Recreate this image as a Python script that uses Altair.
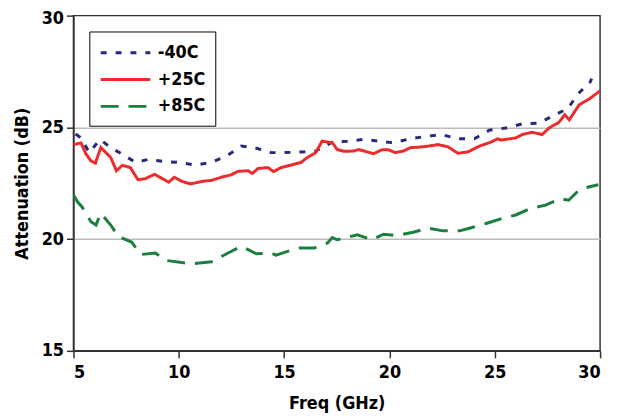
import altair as alt
import pandas as pd

# -40C series
freq_m40 = [5.1, 5.36, 5.75, 6.26, 6.77, 7.32, 7.95, 8.58, 9.28, 10.07, 10.78, 11.53, 12.26, 12.97,
            13.6, 14.38, 15.0, 15.8, 16.5, 17.29, 18.0, 18.78, 19.49, 20.19, 20.98, 21.76, 22.47,
            23.25, 24.03, 24.74, 25.53, 26.31, 27.1, 27.75, 28.48, 28.93, 29.53, 29.6]
att_m40 = [24.7, 24.53, 23.87, 24.46, 24.09, 23.8, 23.43, 23.57, 23.47, 23.43, 23.31, 23.43, 23.72, 24.16,
           24.09, 23.87, 23.87, 23.9, 23.94, 24.34, 24.38, 24.46, 24.38, 24.31, 24.49, 24.6, 24.68,
           24.49, 24.49, 24.87, 24.97, 25.16, 25.19, 25.51, 25.85, 26.48, 27.03, 27.18]

# +25C series
freq_p25 = [5.0, 5.36, 5.6, 5.83, 6.04, 6.3, 6.77, 7.04, 7.32, 7.7, 8.06, 8.4, 8.85, 9.52, 9.79, 10.15,
            10.57, 11.09, 11.56, 12.03, 12.5, 12.8, 13.29, 13.5, 13.76, 14.23, 14.5, 14.85, 15.32, 15.8,
            16.1, 16.5, 16.8, 17.29, 17.52, 17.84, 18.3, 18.54, 19.25, 19.64, 19.96, 20.27, 20.66,
            20.98, 21.45, 21.84, 22.3, 22.78, 23.25, 23.72, 24.27, 24.82, 25.14, 25.3, 26.0, 26.31,
            26.78, 27.25, 27.57, 28.04, 28.32, 28.54, 29.0, 29.45, 30.0]
att_p25 = [24.23, 24.3, 23.8, 23.5, 23.4, 24.1, 23.65, 23.06, 23.3, 23.2, 22.66, 22.7, 22.9, 22.55, 22.77,
           22.58, 22.47, 22.58, 22.63, 22.77, 22.88, 23.03, 23.06, 22.94, 23.16, 23.2, 23.02, 23.2, 23.31,
           23.43, 23.65, 23.87, 24.38, 24.31, 24.01, 23.93, 23.94, 24.01, 23.82, 24.0, 24.0, 23.87, 23.94,
           24.09, 24.12, 24.16, 24.23, 24.13, 23.84, 23.9, 24.16, 24.34, 24.49, 24.43, 24.53, 24.68,
           24.78, 24.68, 24.97, 25.22, 25.56, 25.34, 26.0, 26.25, 26.63]

# +85C series
freq_p85 = [5.0, 5.2, 5.41, 5.83, 6.07, 6.3, 6.77, 7.13, 7.76, 8.19, 8.89, 9.36, 10.23, 10.62, 11.09,
            11.56, 12.34, 12.97, 13.68, 14.38, 14.62, 15.09, 15.72, 16.43, 17.05, 17.29, 17.52, 17.84,
            18.47, 19.17, 19.72, 20.35, 21.13, 21.84, 22.54, 23.33, 23.88, 24.59, 25.37, 26.0, 26.7,
            27.41, 28.12, 28.51, 28.98, 29.45, 29.92]
att_p85 = [21.98, 21.66, 21.44, 20.78, 20.63, 21.15, 20.63, 20.12, 19.87, 19.31, 19.38, 19.05, 18.94,
           18.9, 18.94, 18.99, 19.38, 19.68, 19.34, 19.38, 19.28, 19.43, 19.6, 19.6, 19.82, 20.07, 19.97,
           20.04, 20.19, 19.97, 20.22, 20.16, 20.31, 20.49, 20.37, 20.37, 20.51, 20.7, 20.93, 21.08,
           21.37, 21.52, 21.81, 21.74, 22.18, 22.33, 22.43]

series_names = ["-40C", "+25C", "+85C"]
series_colors = ["#262B78", "#EE2B2B", "#1B7F3F"]
series_dashes = [[6, 9], [1, 0], [18, 10]]
x_ticks = [5, 10, 15, 20, 25, 30]
y_ticks = [15, 20, 25, 30]

rows = []
for name, xs, ys in zip(series_names, [freq_m40, freq_p25, freq_p85], [att_m40, att_p25, att_p85]):
    for xv, yv in zip(xs, ys):
        rows.append({"Freq": xv, "Att": yv, "Series": name})
df = pd.DataFrame(rows)

FONT = "DejaVu Sans Condensed"

legend = alt.Legend(
    title=None, orient="none", legendX=16, legendY=16,
    strokeColor="black", fillColor="white", padding=10,
    symbolType="M-2.5,0H2.5", symbolSize=400, symbolStrokeWidth=3, symbolOffset=15,
    labelFont=FONT, labelFontSize=18, labelFontWeight="bold", labelColor="black",
    rowPadding=6, labelOffset=21,
)

chart = alt.Chart(df).mark_line(strokeWidth=3, clip=True).encode(
    x=alt.X("Freq:Q", scale=alt.Scale(domain=[5, 30], nice=False, zero=False),
            axis=alt.Axis(values=x_ticks, title="Freq (GHz)", grid=False)),
    y=alt.Y("Att:Q", scale=alt.Scale(domain=[15, 30], nice=False, zero=False),
            axis=alt.Axis(values=y_ticks, title="Attenuation (dB)", grid=True,
                          labelOffset={"condition": {"test": "datum.value == 30", "value": 3}, "value": 0},
                          gridColor={"condition": {"test": "datum.value == 20 || datum.value == 25",
                                                   "value": "#BBBBBB"}, "value": "transparent"})),
    color=alt.Color("Series:N", scale=alt.Scale(domain=series_names, range=series_colors), legend=legend),
    strokeDash=alt.StrokeDash("Series:N", scale=alt.Scale(domain=series_names, range=series_dashes), legend=legend),
).properties(
    width=531, height=338,
    autosize=alt.AutoSizeParams(type="none"),
    padding={"left": 66, "top": 6, "right": 10, "bottom": 64},
).configure_view(
    stroke="#333333", strokeWidth=1.5,
).configure_axis(
    labelFont=FONT, labelFontSize=18, labelFontWeight="bold", labelColor="black",
    titleFont=FONT, titleFontSize=18, titleFontWeight="bold", titleColor="black",
    domainColor="#333333", domainWidth=1.5, tickColor="#333333", tickWidth=1.5, tickSize=7,
    gridWidth=1.5,
).configure_axisX(
    labelPadding=6, titlePadding=13,
).configure_axisY(
    labelPadding=3, titlePadding=10,
)

chart.save("out.html", embed_options={"renderer": "svg", "actions": False})
